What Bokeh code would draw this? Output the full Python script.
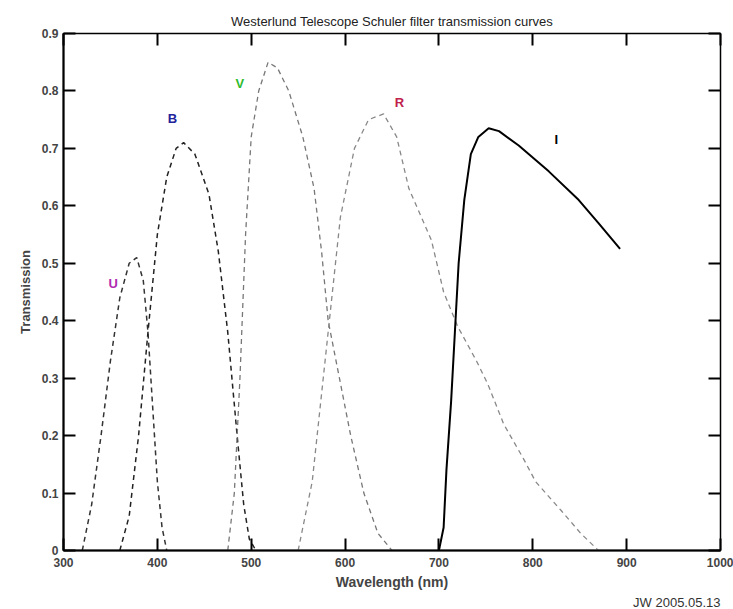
from bokeh.plotting import figure
from bokeh.models import Range1d, LinearAxis, FixedTicker, Label, Title
from bokeh.embed import file_html
from bokeh.resources import INLINE

# Filter transmission curves (wavelength in nm, transmission fraction)
u_wl = [320, 330, 340, 350, 360, 370, 378, 385, 390, 395, 400, 405, 410]
u_tr = [0.0, 0.08, 0.2, 0.33, 0.44, 0.50, 0.51, 0.47, 0.38, 0.25, 0.12, 0.04, 0.0]

b_wl = [360, 370, 380, 390, 400, 410, 420, 428, 440, 455, 465, 475, 485, 492, 498, 505]
b_tr = [0.0, 0.06, 0.2, 0.38, 0.55, 0.65, 0.70, 0.71, 0.69, 0.62, 0.52, 0.38, 0.2, 0.08, 0.02, 0.0]

v_wl = [475, 482, 488, 494, 500, 508, 518, 528, 540, 555, 567, 575, 582, 594, 606, 620, 635, 650]
v_tr = [0.0, 0.1, 0.3, 0.55, 0.72, 0.80, 0.85, 0.84, 0.80, 0.72, 0.63, 0.52, 0.40, 0.30, 0.2, 0.1, 0.03, 0.0]

r_wl = [550, 565, 580, 595, 610, 625, 641, 655, 668, 692, 705, 720, 740, 752, 769, 790, 803, 830, 851, 870]
r_tr = [0.0, 0.12, 0.35, 0.58, 0.70, 0.75, 0.76, 0.72, 0.63, 0.54, 0.45, 0.39, 0.33, 0.29, 0.22, 0.16, 0.12, 0.07, 0.03, 0.0]

i_wl = [700, 705, 708, 713, 717, 721, 727, 734, 742, 753, 764, 785, 817, 849, 870, 893]
i_tr = [0.0, 0.04, 0.14, 0.26, 0.38, 0.50, 0.61, 0.69, 0.72, 0.735, 0.73, 0.705, 0.66, 0.61, 0.57, 0.525]

# Band names and where they are written (nm, transmission)
band_names = ["U", "B", "V", "R", "I"]
band_label_x = [353, 416, 488, 658, 825]
band_label_y = [0.465, 0.752, 0.813, 0.78, 0.716]
band_colors = ["#b02ab0", "#22229a", "#2dbb2d", "#c0204a", "#000000"]

x_ticks = [300, 400, 500, 600, 700, 800, 900, 1000]
y_ticks = [0.0, 0.1, 0.2, 0.3, 0.4, 0.5, 0.6, 0.7, 0.8, 0.9]
y_tick_labels = {0.0: "0", 0.1: "0.1", 0.2: "0.2", 0.3: "0.3", 0.4: "0.4", 0.5: "0.5",
                 0.6: "0.6", 0.7: "0.7", 0.8: "0.8", 0.9: "0.9"}

FONT = "Liberation Sans"

p = figure(width=733, height=609, output_backend="svg", toolbar_location=None,
           x_range=Range1d(300, 1000), y_range=Range1d(0, 0.9),
           min_border_left=63, min_border_right=13, min_border_top=33, min_border_bottom=59,
           background_fill_color="white", border_fill_color="white")
p.grid.visible = False
p.outline_line_color = "black"
p.outline_line_width = 1.5

p.title = Title(text="Westerlund Telescope Schuler filter transmission curves",
                align="center", text_font=FONT, text_font_size="13px",
                text_font_style="normal", text_color="#222222", standoff=9)

for ax in (p.xaxis[0], p.yaxis[0]):
    ax.major_tick_in = 12
    ax.major_tick_out = 0
    ax.minor_tick_line_color = None
    ax.axis_line_width = 2
    ax.major_tick_line_width = 2
    ax.major_label_text_font = FONT
    ax.major_label_text_font_size = "12px"
    ax.major_label_text_font_style = "bold"
    ax.axis_label_text_font = FONT
    ax.axis_label_text_font_style = "bold"

p.xaxis[0].axis_label_text_font_size = "14px"
p.yaxis[0].axis_label_text_font_size = "13px"
p.xaxis[0].ticker = FixedTicker(ticks=x_ticks)
p.yaxis[0].ticker = FixedTicker(ticks=y_ticks)
p.yaxis[0].major_label_overrides = y_tick_labels
p.xaxis[0].axis_label = "Wavelength (nm)"
p.yaxis[0].axis_label = "Transmission"
p.xaxis[0].axis_label_standoff = 4
p.yaxis[0].axis_label_standoff = 6
p.xaxis[0].major_label_standoff = 7

# Mirrored tick marks on the top and right edges (no labels there)
top = LinearAxis(ticker=FixedTicker(ticks=x_ticks),
                 major_label_overrides={t: "" for t in x_ticks},
                 major_tick_in=12, major_tick_out=0, minor_tick_line_color=None,
                 major_tick_line_width=2, axis_line_color=None)
right = LinearAxis(ticker=FixedTicker(ticks=y_ticks),
                   major_label_overrides={t: "" for t in y_ticks},
                   major_tick_in=12, major_tick_out=0, minor_tick_line_color=None,
                   major_tick_line_width=2, axis_line_color=None)
p.add_layout(top, "above")
p.add_layout(right, "right")

dash = "5 4"
p.line(u_wl, u_tr, line_color="#333333", line_width=1.5, line_dash=dash)
p.line(b_wl, b_tr, line_color="#222222", line_width=1.5, line_dash=dash)
p.line(v_wl, v_tr, line_color="#777777", line_width=1.3, line_dash=dash)
p.line(r_wl, r_tr, line_color="#888888", line_width=1.3, line_dash=dash)
p.line(i_wl, i_tr, line_color="black", line_width=2)

for name, lx, ly, col in zip(band_names, band_label_x, band_label_y, band_colors):
    p.add_layout(Label(x=lx, y=ly, text=name, text_color=col, text_font=FONT,
                       text_font_size="13px", text_font_style="bold",
                       text_align="center", text_baseline="middle"))

# Date stamp in the lower right corner
p.add_layout(Title(text="JW 2005.05.13", align="right", text_font=FONT,
                   text_font_size="13px", text_font_style="normal",
                   text_color="#333333", standoff=0), "below")

open("out.html", "w").write(file_html(p, INLINE))
